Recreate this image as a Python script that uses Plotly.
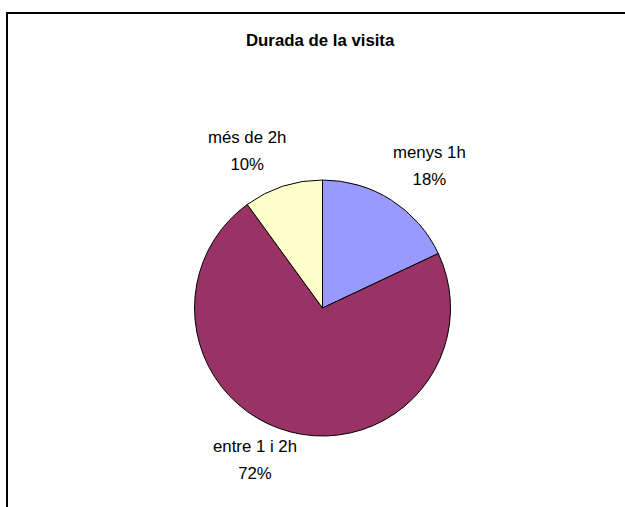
import math
import plotly.graph_objects as go

# ---- data ----
categories = ["menys 1h", "entre 1 i 2h", "més de 2h"]
values = [18, 72, 10]
colors = ["#9999FF", "#993366", "#FFFFCC"]
title_text = "Durada de la visita"

W, H = 625, 507
cx, cy, r = 322.5, 308.0, 128.0  # pie centre / radius in pixels
pad_x, pad_y = 10.0, 7.0
label_dx = 33.0  # horizontal offset of label centre from radial anchor
label_dy = -3.5  # small vertical nudge of all labels

fig = go.Figure()
fig.add_trace(go.Pie(
    labels=categories,
    values=values,
    sort=False,
    direction="clockwise",
    rotation=0,
    marker=dict(colors=colors, line=dict(color="#000000", width=1)),
    textinfo="none",
    hoverinfo="label+percent",
    showlegend=False,
    domain=dict(x=[(cx - r) / W, (cx + r) / W], y=[1 - (cy + r) / H, 1 - (cy - r) / H]),
))

label_font = dict(family="Liberation Sans, Arial", size=20.8, color="#000000")
span = "<span style='font-size:16.8px'>{}</span>"

total = sum(values)
cum = 0.0
annotations = []
for lab, v in zip(categories, values):
    mid = (cum + v / 2) / total * 2 * math.pi
    cum += v
    dx, dy = math.sin(mid), -math.cos(mid)
    px = cx + (r + pad_x) * dx + (label_dx if dx > 0 else -label_dx)
    py = cy + (r + pad_y) * dy + label_dy
    pct = round(v / total * 100)
    annotations.append(dict(
        x=px / W, y=1 - py / H, xref="paper", yref="paper",
        text=span.format(lab) + "<br>" + span.format(f"{pct}%"),
        showarrow=False,
        xanchor="center",
        yanchor="bottom" if dy < 0 else "top",
        align="center",
        font=label_font,
    ))

annotations.append(dict(
    x=321 / W, y=1 - 41 / H, xref="paper", yref="paper",
    text=f"<b>{title_text}</b>", showarrow=False,
    xanchor="center", yanchor="middle",
    font=dict(family="Liberation Sans, Arial", size=16.8, color="#000000"),
))

fig.update_layout(
    width=W, height=H,
    margin=dict(l=0, r=0, t=0, b=0),
    paper_bgcolor="#FFFFFF",
    plot_bgcolor="#FFFFFF",
    annotations=annotations,
    shapes=[dict(type="rect", xref="paper", yref="paper",
                 x0=7 / W, x1=700 / W, y0=1 - 600 / H, y1=1 - 13 / H,
                 line=dict(color="#000000", width=2), fillcolor="rgba(0,0,0,0)")],
)

fig.write_html("out.html", config={"displayModeBar": False},
               post_script="document.body.style.margin='0';document.body.style.overflow='hidden';")
